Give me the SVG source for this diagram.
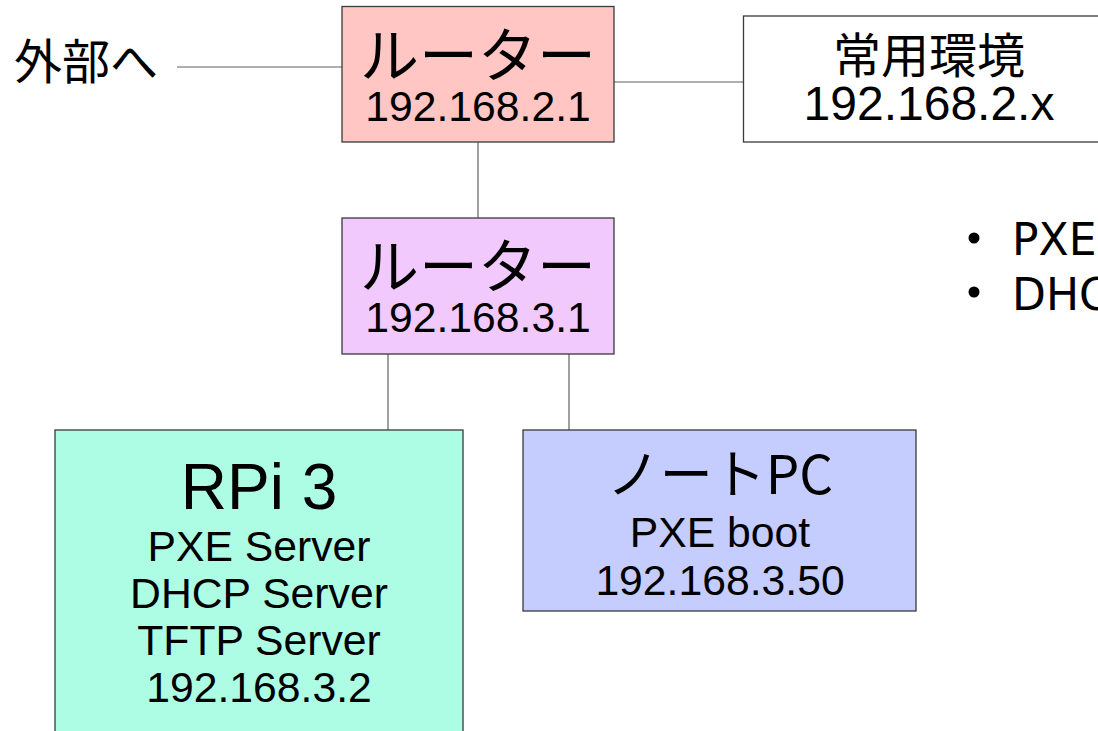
<svg xmlns="http://www.w3.org/2000/svg" width="1098" height="731" viewBox="0 0 1098 731">
<style>
.box{stroke:#3a3a3a;stroke-width:1.3}
.con{stroke:#606060;stroke-width:1.2;fill:none}
.t{font-family:"Liberation Sans",Arial,"Noto Sans CJK JP",sans-serif;fill:#000;text-anchor:middle}
.j{font-family:"Noto Sans CJK JP","Liberation Sans",sans-serif;fill:#000}
.s{font-size:42.7px}
.b{font-family:"DejaVu Sans",sans-serif;font-size:44px;fill:#000}
</style>
<rect width="1098" height="731" fill="#ffffff"/>
<g id="connectors">
<line class="con" x1="177" y1="67" x2="342" y2="67"/>
<line class="con" x1="614" y1="82" x2="743" y2="82"/>
<line class="con" x1="478" y1="142" x2="478" y2="218"/>
<line class="con" x1="388" y1="354" x2="388" y2="430"/>
<line class="con" x1="569" y1="354" x2="569" y2="430"/>
</g>
<g id="external">
<text class="j" x="14" y="79" font-size="48">外部へ</text>
</g>
<g id="router1">
<rect class="box" x="342" y="6.5" width="272" height="135.5" fill="#ffc6c4"/>
<text class="j" x="478" y="77" font-size="59" text-anchor="middle">ルーター</text>
<text class="t s" x="478" y="121">192.168.2.1</text>
</g>
<g id="home">
<rect class="box" x="743.5" y="16" width="372" height="126" fill="#ffffff"/>
<text class="j" x="929" y="73" font-size="48" text-anchor="middle">常用環境</text>
<text class="t" x="929" y="120" font-size="48">192.168.2.x</text>
</g>
<g id="router2">
<rect class="box" x="342" y="218" width="272" height="136" fill="#f1c9fd"/>
<text class="j" x="478" y="288" font-size="59" text-anchor="middle">ルーター</text>
<text class="t s" x="478" y="332">192.168.3.1</text>
</g>
<g id="rpi">
<rect class="box" x="55" y="430" width="408" height="320" fill="#adfde5"/>
<text class="t" x="259" y="509" font-size="64">RPi 3</text>
<text class="t s" x="259" y="561">PXE Server</text>
<text class="t s" x="259" y="608">DHCP Server</text>
<text class="t s" x="259" y="655">TFTP Server</text>
<text class="t s" x="259" y="702">192.168.3.2</text>
</g>
<g id="notepc">
<rect class="box" x="523" y="430" width="393" height="181" fill="#c5cdfe"/>
<text class="j" x="720" y="494" font-size="53" text-anchor="middle">ノートPC</text>
<text class="t s" x="720" y="547">PXE boot</text>
<text class="t s" x="720" y="595">192.168.3.50</text>
</g>
<g id="notes">
<circle cx="974" cy="238" r="5.5" fill="#000"/>
<text class="b" x="1012" y="255">PXE</text>
<circle cx="974" cy="292" r="5.5" fill="#000"/>
<text class="b" x="1012" y="310">DHC</text>
</g>
</svg>
